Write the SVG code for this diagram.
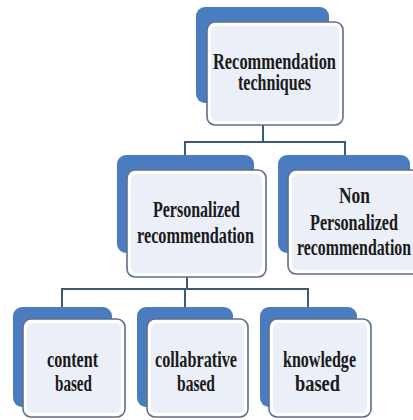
<svg xmlns="http://www.w3.org/2000/svg" width="413" height="420" viewBox="0 0 413 420">
<defs>
<style>
.back{fill:#4a7cbf;}
.front{fill:#ffffff;stroke:#5d6f8a;stroke-width:1.6;}
.inner{fill:#ebeff7;}
.conn{fill:none;stroke:#3f5878;stroke-width:2;}
text{font-family:"Liberation Serif","Times New Roman",serif;font-weight:bold;font-size:24px;fill:#1a1a1a;text-anchor:middle;}
</style>
</defs>
<rect width="413" height="420" fill="#ffffff"/>
<g id="connectors">
<path class="conn" d="M263 125V142M185 155V142H345V155"/>
<path class="conn" d="M187 277V289M62 307V289H308V307M185 289V307"/>
</g>
<g id="n-root">
<rect class="back" x="196" y="7" width="133" height="96" rx="9"/>
<rect class="front" x="207" y="22" width="136" height="103" rx="8"/>
<rect class="inner" x="211" y="26" width="128" height="95" rx="6"/>
<text x="274.5" y="69" textLength="123" lengthAdjust="spacingAndGlyphs">Recommendation</text>
<text x="274.5" y="90" textLength="73" lengthAdjust="spacingAndGlyphs">techniques</text>
</g>
<g id="n-personalized">
<rect class="back" x="117" y="155" width="137" height="98" rx="9"/>
<rect class="front" x="127" y="170" width="139" height="107" rx="8"/>
<rect class="inner" x="131" y="174" width="131" height="99" rx="6"/>
<text x="196.5" y="217" textLength="87" lengthAdjust="spacingAndGlyphs">Personalized</text>
<text x="195.5" y="243" textLength="117" lengthAdjust="spacingAndGlyphs">recommendation</text>
</g>
<g id="n-nonpersonalized">
<rect class="back" x="278" y="155" width="132" height="98" rx="9"/>
<rect class="front" x="288" y="170" width="134" height="104" rx="8"/>
<rect class="inner" x="292" y="174" width="126" height="96" rx="6"/>
<text x="354.5" y="203" textLength="31" lengthAdjust="spacingAndGlyphs">Non</text>
<text x="354" y="230" textLength="88" lengthAdjust="spacingAndGlyphs">Personalized</text>
<text x="354" y="255" textLength="114" lengthAdjust="spacingAndGlyphs">recommendation</text>
</g>
<g id="n-content">
<rect class="back" x="13" y="307" width="99" height="100" rx="9"/>
<rect class="front" x="23" y="319" width="102" height="98" rx="8"/>
<rect class="inner" x="27" y="323" width="94" height="90" rx="6"/>
<text x="72.5" y="367" textLength="51" lengthAdjust="spacingAndGlyphs">content</text>
<text x="73.5" y="391" textLength="37" lengthAdjust="spacingAndGlyphs">based</text>
</g>
<g id="n-collabrative">
<rect class="back" x="137" y="307" width="96" height="100" rx="9"/>
<rect class="front" x="147" y="319" width="101" height="98" rx="8"/>
<rect class="inner" x="151" y="323" width="93" height="90" rx="6"/>
<text x="196" y="367" textLength="82" lengthAdjust="spacingAndGlyphs">collabrative</text>
<text x="196" y="391" textLength="38" lengthAdjust="spacingAndGlyphs">based</text>
</g>
<g id="n-knowledge">
<rect class="back" x="260" y="307" width="97" height="100" rx="9"/>
<rect class="front" x="269" y="319" width="102" height="98" rx="8"/>
<rect class="inner" x="273" y="323" width="94" height="90" rx="6"/>
<text x="319.5" y="367" textLength="73" lengthAdjust="spacingAndGlyphs">knowledge</text>
<text x="317.5" y="391" textLength="45" lengthAdjust="spacingAndGlyphs">based</text>
</g>
</svg>
